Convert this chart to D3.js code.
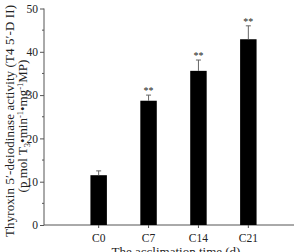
<!DOCTYPE html>
<html>
<head>
<meta charset="utf-8"/>
<style>
  body { margin: 0; background: #fff; }
  svg text { font-family: "Liberation Serif", "DejaVu Serif", serif; fill: #222; }
</style>
</head>
<body>
<svg id="chart" width="302" height="252"></svg>
<script src="https://d3js.org/d3.v7.min.js"></script>
<script>
// data
let categories = ["C0", "C7", "C14", "C21"];
let values = [11.5, 28.7, 35.6, 42.9];
let errors = [1.0, 1.3, 2.5, 3.1];
let marks = ["", "**", "**", "**"];
let yTicks = [0, 10, 20, 30, 40, 50];
let yMinor = [5, 15, 25, 35, 45];

let svg = d3.select("#chart");
let plotLeft = 44, plotRight = 294, plotTop = 8.5, plotBottom = 225;

let x = d3.scaleBand()
  .domain(categories)
  .range([57, 290])
  .padding(0.67);

let y = d3.scaleLinear()
  .domain([0, 50])
  .range([plotBottom, plotTop]);

// y axis
let yAxis = svg.append("g")
  .attr("transform", `translate(${plotLeft},0)`)
  .call(d3.axisLeft(y).tickValues(yTicks).tickSize(4).tickPadding(2));
yAxis.select(".domain").attr("stroke", "#555").attr("d", `M0,${plotBottom}V${plotTop}`);
yAxis.selectAll(".tick line").attr("stroke", "#555");
yAxis.selectAll(".tick text").attr("font-size", 11.5).attr("font-family", "Liberation Serif").attr("fill", "#222");

svg.append("g")
  .selectAll("line")
  .data(yMinor)
  .enter()
  .append("line")
  .attr("x1", plotLeft - 2).attr("x2", plotLeft)
  .attr("y1", d => y(d)).attr("y2", d => y(d))
  .attr("stroke", "#555");

// x axis
svg.append("line")
  .attr("x1", plotLeft).attr("x2", plotRight)
  .attr("y1", plotBottom).attr("y2", plotBottom)
  .attr("stroke", "#555");

let xAxis = svg.append("g")
  .attr("transform", `translate(0,${plotBottom})`)
  .call(d3.axisBottom(x).tickSize(3).tickPadding(6));
xAxis.select(".domain").remove();
xAxis.selectAll(".tick line").attr("stroke", "#555");
xAxis.selectAll(".tick text").attr("font-size", 11.5).attr("font-family", "Liberation Serif").attr("fill", "#222");

// bars
svg.append("g")
  .selectAll("rect")
  .data(values)
  .enter()
  .append("rect")
  .attr("x", (d, i) => x(categories[i]))
  .attr("y", d => y(d))
  .attr("width", x.bandwidth())
  .attr("height", d => plotBottom - y(d))
  .attr("fill", "#000");

// error bars (upper only)
let eb = svg.append("g").attr("stroke", "#666").attr("stroke-width", 1);
values.forEach((v, i) => {
  let cx = x(categories[i]) + x.bandwidth() / 2;
  eb.append("line").attr("x1", cx).attr("x2", cx).attr("y1", y(v)).attr("y2", y(v + errors[i]));
  eb.append("line").attr("x1", cx - 2.5).attr("x2", cx + 2.5).attr("y1", y(v + errors[i])).attr("y2", y(v + errors[i]));
});

// significance marks
svg.append("g")
  .selectAll("text")
  .data(values)
  .enter()
  .append("text")
  .attr("x", (d, i) => x(categories[i]) + x.bandwidth() / 2)
  .attr("y", (d, i) => y(d + errors[i]) - 1)
  .attr("text-anchor", "middle")
  .attr("font-size", 10)
  .attr("fill", "#444")
  .text((d, i) => marks[i]);

// axis titles (reference shows it clipped at the bottom edge)
svg.append("text")
  .attr("x", 176).attr("y", 256)
  .attr("text-anchor", "middle")
  .attr("font-size", 13)
  .text("The acclimation time (d)");

let yl = svg.append("g").attr("transform", "translate(14,121) rotate(-90)");
yl.append("text")
  .attr("text-anchor", "middle")
  .attr("font-size", 13)
  .attr("textLength", 232)
  .attr("lengthAdjust", "spacing")
  .text("Thyroxin 5\u2032-deiodinase activity (T4 5\u2032-D II)");
let l2 = yl.append("text")
  .attr("y", 13)
  .attr("x", -5)
  .attr("text-anchor", "middle")
  .attr("font-size", 13);
l2.append("tspan").text("(p mol T");
l2.append("tspan").attr("font-size", 8.5).attr("dy", 3).text("3");
l2.append("tspan").attr("dy", -3).text("\u2022min");
l2.append("tspan").attr("font-size", 8.5).attr("dy", -4).text("-1");
l2.append("tspan").attr("dy", 4).text("\u2022mg");
l2.append("tspan").attr("font-size", 8.5).attr("dy", -4).text("-1");
l2.append("tspan").attr("dy", 4).text("MP)");
</script>
</body>
</html>
